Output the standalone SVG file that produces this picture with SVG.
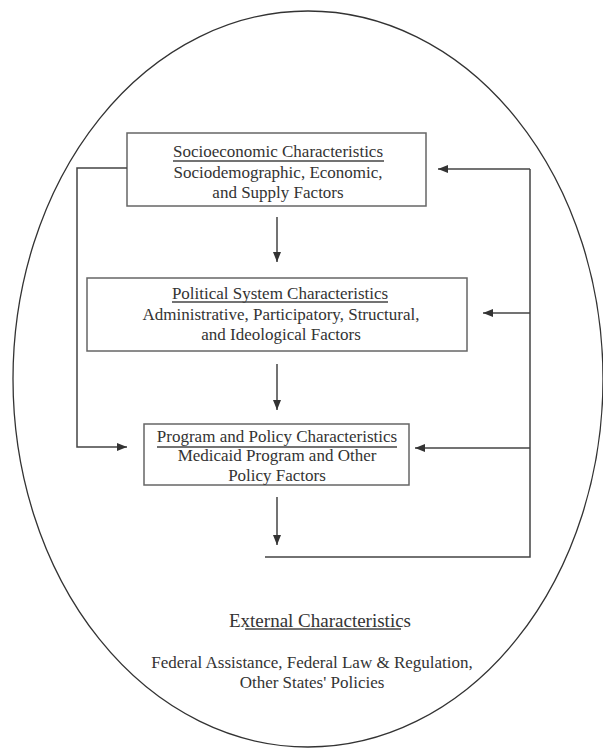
<svg xmlns="http://www.w3.org/2000/svg" width="603" height="748" viewBox="0 0 603 748">
<style>
  .box { fill: #ffffff; stroke: #666666; stroke-width: 1.5; }
  .t { font-family: "Liberation Serif", "Times New Roman", serif; font-size: 17px; fill: #333333; text-anchor: middle; }
  .big { font-size: 19px; }
  .ul { stroke: #444444; stroke-width: 1.3; }
  .conn { fill: none; stroke: #444444; stroke-width: 1.5; }
  .outer { fill: none; stroke: #333333; stroke-width: 1.3; }
</style>
<defs>
  <marker id="ah" viewBox="0 0 10 8" refX="10" refY="4" markerWidth="10" markerHeight="8" markerUnits="userSpaceOnUse" orient="auto">
    <path d="M0,0 L10,4 L0,8 z" fill="#333333"/>
  </marker>
</defs>
<rect width="603" height="748" fill="#ffffff"/>
<g id="external">
  <ellipse class="outer" cx="308" cy="379" rx="295" ry="368"/>
  <text class="t big" x="320" y="627">External Characteristics</text>
  <line class="ul" x1="245" y1="629" x2="401" y2="629"/>
  <text class="t" x="312" y="668">Federal Assistance, Federal Law &amp; Regulation,</text>
  <text class="t" x="312" y="688">Other States' Policies</text>
</g>
<g id="socioeconomic">
  <rect class="box" x="127" y="133" width="299" height="73"/>
  <text class="t" x="278" y="157">Socioeconomic Characteristics</text>
  <line class="ul" x1="173" y1="161" x2="384" y2="161"/>
  <text class="t" x="278" y="178">Sociodemographic, Economic,</text>
  <text class="t" x="278" y="198">and Supply Factors</text>
</g>
<g id="political">
  <rect class="box" x="87" y="278" width="380" height="73"/>
  <text class="t" x="280" y="299">Political System Characteristics</text>
  <line class="ul" x1="172" y1="302" x2="388" y2="302"/>
  <text class="t" x="281" y="320">Administrative, Participatory, Structural,</text>
  <text class="t" x="281" y="340">and Ideological Factors</text>
</g>
<g id="program">
  <rect class="box" x="144" y="424" width="265" height="61"/>
  <text class="t" x="277" y="442">Program and Policy Characteristics</text>
  <line class="ul" x1="157" y1="447" x2="397" y2="447" style="stroke-width:1.6"/>
  <text class="t" x="277" y="461">Medicaid Program and Other</text>
  <text class="t" x="277" y="481">Policy Factors</text>
</g>
<g id="connectors">
  <line class="conn" x1="277" y1="217" x2="277" y2="262" marker-end="url(#ah)"/>
  <line class="conn" x1="277" y1="364" x2="277" y2="410" marker-end="url(#ah)"/>
  <line class="conn" x1="277" y1="497" x2="277" y2="545" marker-end="url(#ah)"/>
  <polyline class="conn" points="265,557 530,557 530,169"/>
  <line class="conn" x1="530" y1="169" x2="438" y2="169" marker-end="url(#ah)"/>
  <line class="conn" x1="530" y1="313" x2="483" y2="313" marker-end="url(#ah)"/>
  <line class="conn" x1="530" y1="448" x2="415" y2="448" marker-end="url(#ah)"/>
  <polyline class="conn" points="127,168 77,168 77,447 127,447" marker-end="url(#ah)"/>
</g>
</svg>
